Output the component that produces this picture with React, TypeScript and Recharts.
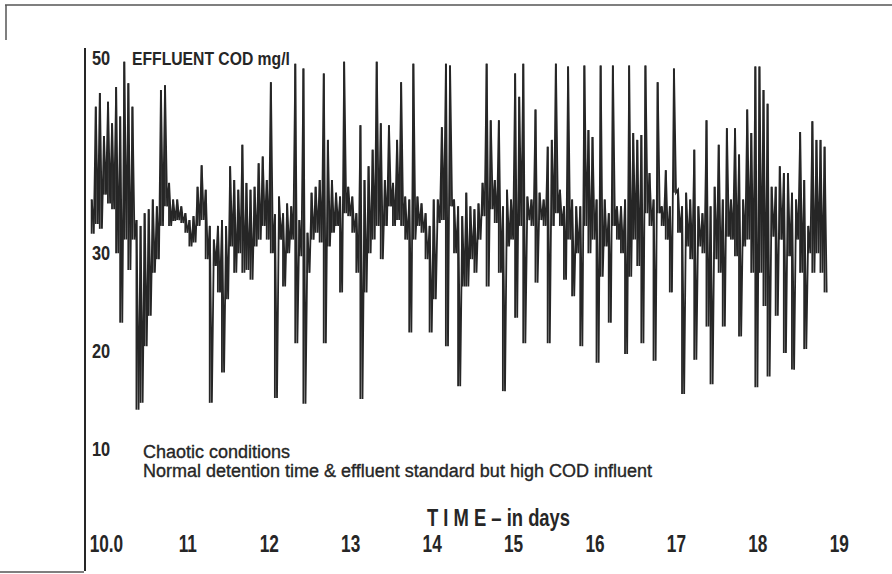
import React from "react";
import { ComposedChart, Line, Bar, XAxis, YAxis } from "recharts";

// recorder trace, read as a peak / trough pair every 0.05 day starting at day 9.82
const START_DAY = 9.82;
const STEP_DAY = 0.05;

const codPeak: number[] = [
  35.5, 45, 46.4, 42, 45.5, 43.3, 47, 44, 49.6, 47.4,
  45, 33.4, 32.8, 34.1, 34.5, 35.5, 34.8, 46.7, 47.2, 37.2,
  35.5, 35.5, 34.8, 34.1, 33.4, 33.8, 36.8, 39, 36.5, 32.8,
  31.4, 32.8, 33.4, 32.8, 38.9, 37.5, 36.5, 41.1, 37.2, 36.5,
  36.8, 39.2, 39.9, 37.5, 47.5, 34, 35.8, 34.1, 35.1, 34.8,
  49.4, 33.4, 48.9, 32.1, 36.2, 36.8, 37.5, 48.4, 41.6, 37.5,
  36.2, 35.8, 49.6, 36.8, 35.8, 34.1, 43.1, 37.5, 38.9, 40.6,
  49.6, 43.3, 37.5, 43.1, 37.2, 41.6, 47.5, 35.8, 35.5, 49.4,
  35.8, 35.1, 34.1, 32.8, 35.5, 35.5, 42.9, 49.4, 49.2, 35.5,
  34.8, 33.8, 36.2, 34.8, 34.5, 35.1, 37.2, 49.4, 43.6, 37.5,
  43.6, 34.8, 36.5, 35.5, 48.4, 46, 49.4, 35.8, 35.5, 44.7,
  36.2, 35.5, 40.9, 41.6, 49.4, 36.5, 34.8, 49.1, 35.5, 34.8,
  34.8, 49.2, 42.6, 41.9, 35.5, 49.2, 35.5, 34.1, 49.2, 34.8,
  34.8, 35.5, 49.2, 42.3, 41.6, 42.1, 49.2, 38.2, 35.5, 47.5,
  34.8, 38.5, 34.8, 48.9, 36.5, 34.8, 36.2, 35.5, 40.6, 34.8,
  34.1, 43.6, 34.8, 36.8, 41.1, 35.5, 42.8, 35.5, 42.8, 40.1,
  35.5, 44.7, 42.3, 49.1, 49.1, 46.7, 45.3, 36.8, 36.8, 38.9,
  38.2, 38.2, 36.2, 35.5, 42.4, 37.5, 32.8, 43.5, 41.6, 41.6,
  40.9,
];

const codTrough: number[] = [
  32, 33, 32.5, 36, 35.1, 34.5, 30, 22.9, 31.4, 28.3,
  31.4, 14, 14.7, 20.5, 23.6, 28, 29.4, 32.8, 34.8, 32.8,
  33.3, 33.4, 33.1, 32.1, 30.7, 31.1, 32.8, 33.4, 29.4, 14.7,
  28.7, 26, 17.8, 25.3, 30.7, 28, 30, 28, 28.3, 27.3,
  30.7, 31.4, 32.8, 31.4, 30, 15.2, 31.4, 26.6, 30, 31.4,
  20.8, 29.7, 14.6, 28, 31.4, 32.1, 31.1, 20.8, 30.7, 32.1,
  32.8, 26, 34.1, 33.8, 32.1, 28, 15.1, 26, 30, 31.4,
  32.8, 29.4, 32.8, 34.8, 32.8, 33.4, 32.8, 31.4, 21.9, 31.4,
  32.8, 32.1, 29.4, 21.9, 25.3, 33.1, 33.4, 20.5, 34.8, 30,
  16.4, 26.6, 26.6, 29.4, 28, 31.4, 33.8, 26.6, 34.5, 33.1,
  28, 15.9, 30.7, 31.4, 23.4, 32.8, 20.8, 33.4, 32.8, 27,
  33.4, 32.8, 20.8, 32.8, 34.1, 32.8, 27.3, 31.4, 25.6, 30,
  20.5, 32.8, 30, 31.4, 18.8, 27.6, 30.7, 22.9, 32.8, 31.4,
  30, 19.7, 27.6, 31.4, 28.7, 20.8, 34.1, 32.8, 19, 34.1,
  32.8, 31.4, 26, 36.2, 32.1, 15.6, 30.7, 29.4, 19.1, 30.7,
  30, 22.5, 16.6, 29.4, 28, 22.5, 31.7, 31.4, 29.7, 21.5,
  30.7, 31.4, 28, 16.3, 28, 24.6, 17.4, 31.7, 23.6, 31.4,
  19.8, 29.7, 18.1, 31.4, 28, 20.2, 30, 28, 30, 28,
  26,
];

const dayTicks = [10, 11, 12, 13, 14, 15, 16, 17, 18, 19];
const codTicks = [10, 20, 30, 50];

const INK = "#262626";
const SANS = "'Liberation Sans', Arial, sans-serif";

// the pen swings peak -> trough inside each sample; the bar fills that swing
const trace = codPeak.flatMap((hi, i) => {
  const day = START_DAY + i * STEP_DAY;
  return [
    { day, cod: hi, swing: [codTrough[i], hi] },
    { day: day + STEP_DAY / 2, cod: codTrough[i], swing: null },
  ];
});

// condensed type, like the lettering on the original
const Cond = ({ x, y, size, sx, anchor = "start", bold = true, children }: any) => (
  <text
    transform={`translate(${x},${y}) scale(${sx},1)`}
    textAnchor={anchor}
    fontFamily={SANS}
    fontWeight={bold ? "bold" : "normal"}
    fontSize={size}
    fill={INK}
    stroke={bold ? "none" : INK}
    strokeWidth={bold ? 0 : 0.35}
  >
    {children}
  </text>
);

const YTick = (props: any) => {
  const { y, payload } = props;
  return (
    <Cond x={92} y={y + 7} size={21} sx={0.78}>
      {payload.value}
    </Cond>
  );
};

const XTick = (props: any) => {
  const { x, payload } = props;
  return (
    <Cond x={x} y={552} size={23} sx={0.75} anchor="middle">
      {payload.value === 10 ? "10.0" : payload.value}
    </Cond>
  );
};

export default function App() {
  return (
    <div style={{ position: "absolute", left: 0, top: 0, width: 892, height: 574, background: "#fff" }}>
      <ComposedChart width={892} height={574} data={trace} margin={{ top: 48, right: 12, bottom: 2, left: 84 }}>
        <XAxis
          dataKey="day"
          type="number"
          domain={[9.737, 19.5]}
          ticks={dayTicks}
          tick={<XTick />}
          axisLine={false}
          tickLine={false}
          height={1}
          interval={0}
        />
        <YAxis
          type="number"
          domain={[-2.5, 51]}
          ticks={codTicks}
          tick={<YTick />}
          tickLine={false}
          axisLine={{ stroke: INK, strokeWidth: 2 }}
          width={1}
          interval={0}
        />
        <Bar dataKey="swing" fill={INK} barSize={3.5} isAnimationActive={false} />
        <Line
          type="linear"
          dataKey="cod"
          stroke={INK}
          strokeWidth={1.8}
          dot={false}
          isAnimationActive={false}
        />
      </ComposedChart>
      <svg width={892} height={574} style={{ position: "absolute", left: 0, top: 0, pointerEvents: "none" }}>
        <line x1={5} y1={5} x2={892} y2={5} stroke="#555" strokeWidth={1.5} />
        <line x1={6} y1={5} x2={6} y2={40} stroke="#555" strokeWidth={1.5} />
        <line x1={0} y1={572} x2={84} y2={572} stroke="#555" strokeWidth={1.5} />
        <Cond x={132} y={65} size={18.6} sx={0.845}>
          EFFLUENT COD mg/l
        </Cond>
        <Cond x={143} y={458} size={18} sx={1} bold={false}>
          Chaotic conditions
        </Cond>
        <Cond x={143} y={477} size={18} sx={1} bold={false}>
          Normal detention time &amp; effluent standard but high COD influent
        </Cond>
        <Cond x={427} y={526} size={23} sx={0.8}>
          T I M E – in days
        </Cond>
      </svg>
    </div>
  );
}
